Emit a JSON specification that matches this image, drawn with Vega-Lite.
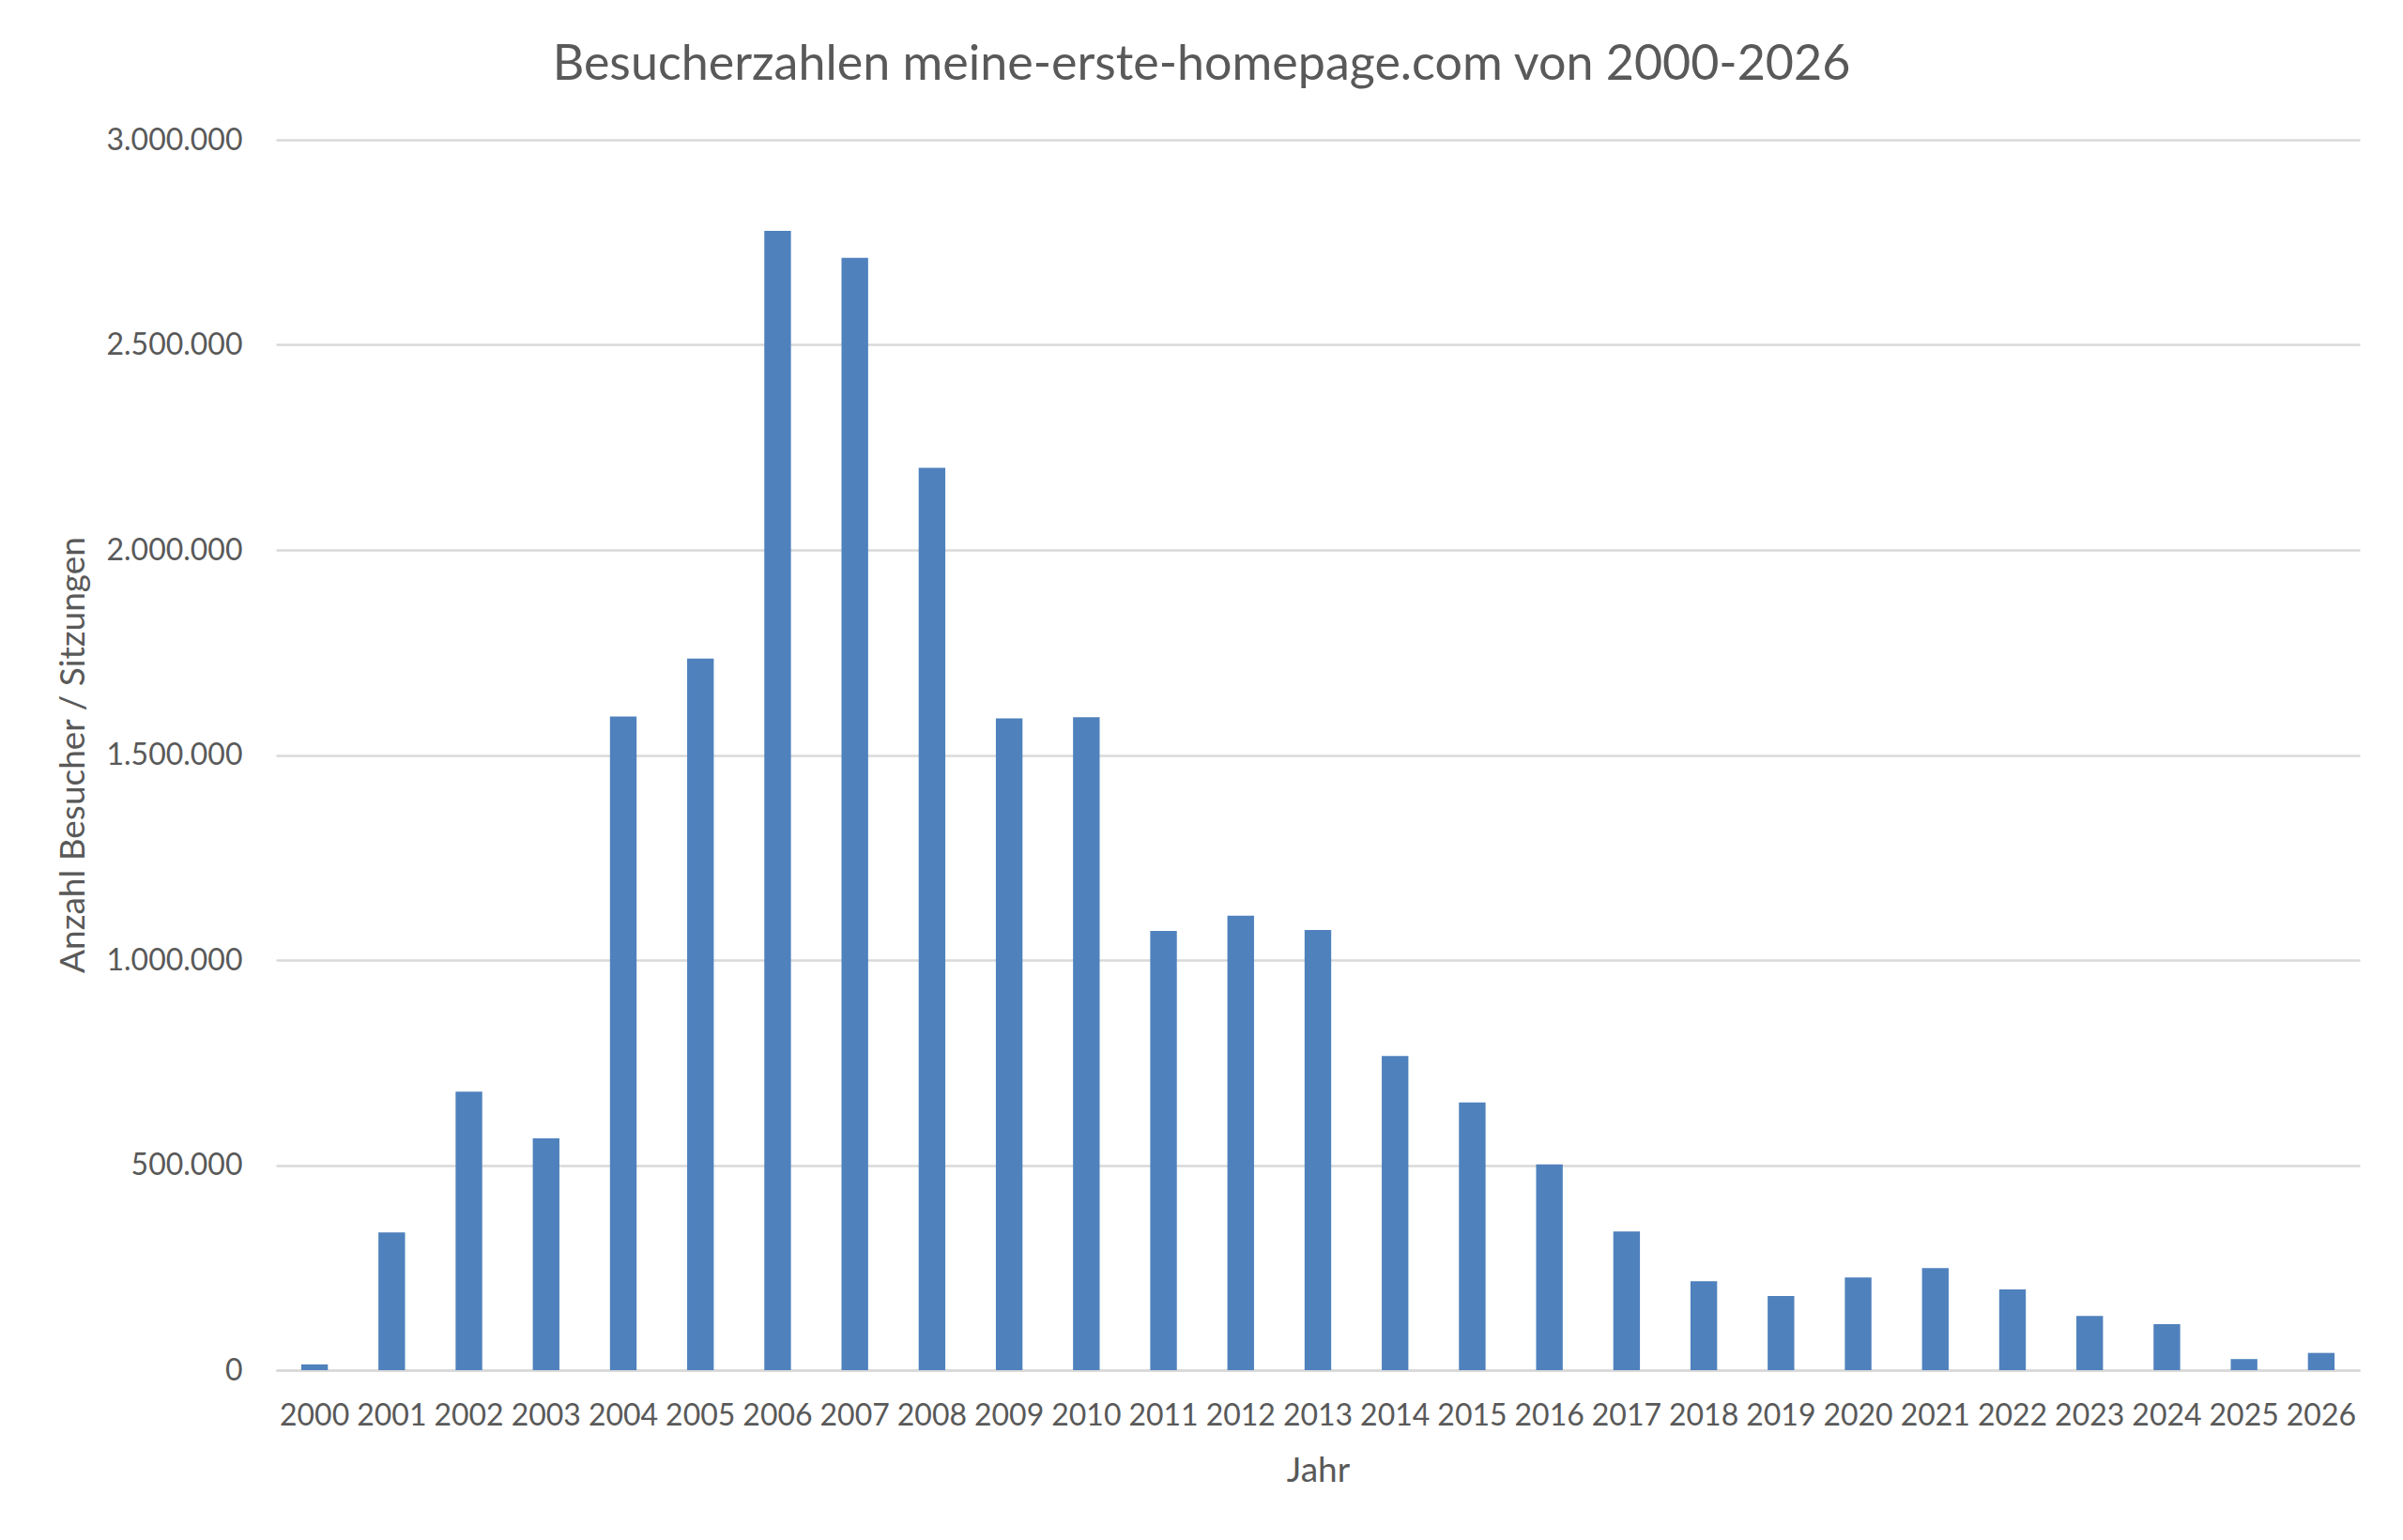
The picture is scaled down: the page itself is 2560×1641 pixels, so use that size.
{
  "$schema": "https://vega.github.io/schema/vega-lite/v6.json",
  "width": 2220,
  "height": 1311,
  "autosize": {"type": "none"},
  "padding": {"left": 294, "top": 149, "right": 46, "bottom": 181},
  "background": "#FFFFFF",
  "title": {
    "text": "Besucherzahlen meine-erste-homepage.com von 2000-2026",
    "anchor": "middle",
    "frame": "group",
    "dx": -124,
    "offset": 37,
    "font": "Lato",
    "fontSize": 52,
    "fontWeight": "normal",
    "color": "#595959"
  },
  "config": {
    "locale": {
      "number": {"decimal": ",", "thousands": ".", "grouping": [3], "currency": ["", " €"]}
    },
    "view": {"stroke": null},
    "axis": {
      "labelFont": "Lato",
      "titleFont": "Lato",
      "labelColor": "#595959",
      "titleColor": "#595959",
      "labelFontSize": 32,
      "titleFontSize": 37,
      "titleFontWeight": "normal"
    }
  },
  "data": {
    "values": [
      {"Jahr": "2000", "Besucher": 14000},
      {"Jahr": "2001", "Besucher": 336000},
      {"Jahr": "2002", "Besucher": 679000},
      {"Jahr": "2003", "Besucher": 565000},
      {"Jahr": "2004", "Besucher": 1594000},
      {"Jahr": "2005", "Besucher": 1735000},
      {"Jahr": "2006", "Besucher": 2778000},
      {"Jahr": "2007", "Besucher": 2712000},
      {"Jahr": "2008", "Besucher": 2200000},
      {"Jahr": "2009", "Besucher": 1589000},
      {"Jahr": "2010", "Besucher": 1592000},
      {"Jahr": "2011", "Besucher": 1071000},
      {"Jahr": "2012", "Besucher": 1108000},
      {"Jahr": "2013", "Besucher": 1073000},
      {"Jahr": "2014", "Besucher": 766000},
      {"Jahr": "2015", "Besucher": 653000},
      {"Jahr": "2016", "Besucher": 502000},
      {"Jahr": "2017", "Besucher": 338000},
      {"Jahr": "2018", "Besucher": 217000},
      {"Jahr": "2019", "Besucher": 181000},
      {"Jahr": "2020", "Besucher": 226000},
      {"Jahr": "2021", "Besucher": 249000},
      {"Jahr": "2022", "Besucher": 197000},
      {"Jahr": "2023", "Besucher": 132000},
      {"Jahr": "2024", "Besucher": 112000},
      {"Jahr": "2025", "Besucher": 27000},
      {"Jahr": "2026", "Besucher": 42000}
    ]
  },
  "mark": {"type": "bar", "color": "#4F81BD"},
  "encoding": {
    "x": {
      "field": "Jahr",
      "type": "ordinal",
      "scale": {"paddingInner": 0.655, "paddingOuter": 0.3275},
      "axis": {
        "title": "Jahr",
        "labelAngle": 0,
        "ticks": false,
        "tickSize": 0,
        "labelPadding": 33,
        "domain": true,
        "domainColor": "#D9D9D9",
        "domainWidth": 2.5,
        "grid": false,
        "titleBaseline": "middle",
        "titleY": 107
      }
    },
    "y": {
      "field": "Besucher",
      "type": "quantitative",
      "scale": {"domain": [0, 3000000], "nice": false},
      "axis": {
        "title": "Anzahl Besucher / Sitzungen",
        "values": [0, 500000, 1000000, 1500000, 2000000, 2500000, 3000000],
        "format": ",d",
        "ticks": false,
        "tickSize": 0,
        "labelPadding": 36,
        "domain": false,
        "grid": true,
        "gridColor": "#D9D9D9",
        "gridWidth": 2.5,
        "titleAngle": -90,
        "titleBaseline": "middle",
        "titleAlign": "center",
        "titleX": -216,
        "titleY": 655
      }
    }
  }
}
